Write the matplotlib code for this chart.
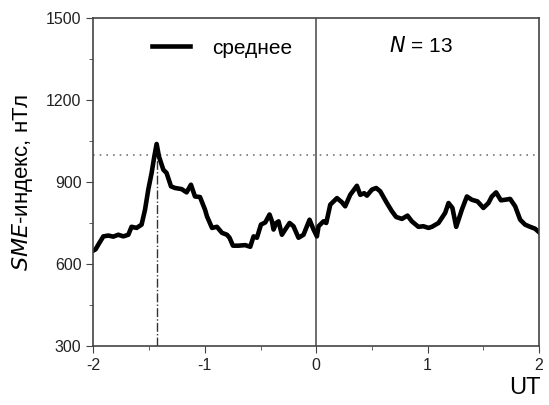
import matplotlib.pyplot as plt
from matplotlib.ticker import MultipleLocator

plt.rcParams['font.family'] = ['Liberation Sans', 'DejaVu Sans']

# mean SME index vs UT (hours)
ut = [-2.0, -1.979, -1.955, -1.910, -1.865, -1.821, -1.776, -1.731, -1.686, -1.657,
      -1.612, -1.567, -1.536, -1.507, -1.477, -1.453, -1.432, -1.411, -1.372, -1.343,
      -1.303, -1.267, -1.208, -1.163, -1.124, -1.088, -1.043, -0.998, -0.980, -0.935,
      -0.891, -0.846, -0.801, -0.778, -0.747, -0.697, -0.637, -0.592, -0.562, -0.532,
      -0.496, -0.457, -0.419, -0.397, -0.383, -0.359, -0.338, -0.308, -0.278, -0.239,
      -0.204, -0.159, -0.114, -0.060, -0.024, 0.006, 0.021, 0.065, 0.090, 0.126,
      0.186, 0.230, 0.260, 0.305, 0.365, 0.395, 0.430, 0.455, 0.500, 0.538,
      0.574, 0.634, 0.679, 0.717, 0.769, 0.819, 0.858, 0.917, 0.962, 1.007,
      1.038, 1.097, 1.157, 1.187, 1.222, 1.256, 1.307, 1.352, 1.396, 1.447,
      1.500, 1.545, 1.576, 1.614, 1.657, 1.695, 1.740, 1.785, 1.830, 1.874,
      1.919, 1.964, 2.0]
sme = [650, 655, 672, 702, 705, 701, 708, 702, 708, 737,
       733, 745, 800, 873, 934, 994, 1040, 994, 946, 934,
       885, 879, 875, 863, 891, 848, 846, 800, 775, 733,
       737, 715, 708, 697, 668, 668, 670, 664, 702, 697,
       745, 753, 782, 757, 727, 751, 757, 708, 727, 751,
       739, 697, 708, 763, 727, 702, 739, 757, 751, 818,
       842, 827, 812, 854, 887, 854, 860, 851, 873, 879,
       867, 824, 794, 773, 766, 778, 757, 737, 739, 733,
       737, 751, 788, 824, 806, 737, 800, 848, 836, 830,
       806, 824, 848, 863, 834, 836, 839, 812, 763, 745,
       737, 730, 717]

peak_ut = -1.43
threshold = 1000
n_events = 13

fig = plt.figure(figsize=(5.49, 4.05), dpi=100)
ax = fig.add_axes([0.17, 0.145, 0.812, 0.81])

ax.axhline(threshold, color='#777777', ls=(0, (1, 3)), lw=1.2)
ax.axvline(0, color='#555555', lw=1.2)
ax.plot([peak_ut, peak_ut], [300, threshold], color='#333333', ls='-.', lw=1)
ax.plot(ut, sme, color='black', lw=3.3, label='среднее')

ax.set_xlim(-2, 2)
ax.set_ylim(300, 1500)
ax.xaxis.set_major_locator(MultipleLocator(1))
ax.xaxis.set_minor_locator(MultipleLocator(0.5))
ax.yaxis.set_major_locator(MultipleLocator(300))
ax.yaxis.set_minor_locator(MultipleLocator(150))
ax.tick_params(which='both', direction='out', colors='#444444', labelcolor='#222222',
               labelsize=11.5)
ax.tick_params(which='major', length=5)
ax.tick_params(which='minor', length=3)
ax.set_xticks([-2, -1, 0, 1, 2])
ax.set_xticklabels(['-2', '-1', '0', '1', '2'])
for s in ax.spines.values():
    s.set_color('#444444')
    s.set_linewidth(1.2)

ax.set_ylabel(r'$\mathit{SME}$-индекс, нТл', fontsize=16)
ax.yaxis.set_label_coords(-0.13, 0.5)
fig.text(0.985, 0.015, 'UT', fontsize=17, ha='right', va='bottom')

ax.legend(loc='upper left', bbox_to_anchor=(0.09, 0.995), frameon=False,
          fontsize=15, handlelength=1.8, handletextpad=1.1)
ax.text(0.735, 0.945, r'$\mathit{N}$ = %d' % n_events, transform=ax.transAxes,
        fontsize=15, ha='center', va='top')

fig.savefig('out.png', dpi=100)
